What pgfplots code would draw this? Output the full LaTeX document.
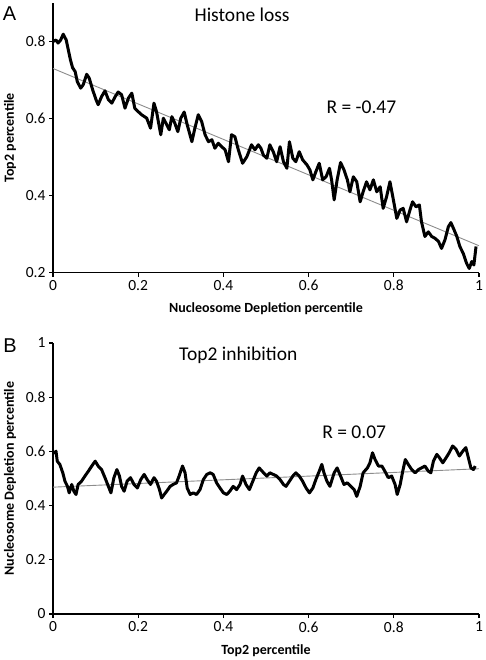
\documentclass[border=0pt]{standalone}
\usepackage{pgfplots}
\pgfplotsset{compat=1.18}
\usepackage{fontspec}
\setmainfont{Carlito}
\newfontfamily\panelfont{Liberation Sans}
\definecolor{trend}{HTML}{8C8C8C}
\pgfplotsset{
  excel/.style={
    scale only axis,
    width=426pt,
    axis x line*=bottom,
    axis y line*=left,
    axis line style={-, line width=1.3pt, black},
    tick align=outside,
    major tick length=4pt,
    tick style={line width=1.1pt, black},
    xmin=0, xmax=1,
    xtick={0,0.2,0.4,0.6,0.8,1},
    /pgf/number format/assume math mode=true,
    /pgf/number format/fixed,
    ticklabel style={font=\fontsize{15.5}{16}\selectfont},
    every axis y label/.style={at={(axis description cs:-0.101,0.5)}, rotate=90, anchor=center, font=\fontsize{14}{15}\selectfont\bfseries},
    every axis x label/.style={at={(axis description cs:0.5,-0.134)}, anchor=center, font=\fontsize{14}{15}\selectfont\bfseries},
  },
  datal/.style={black, line width=3pt, line join=round},
  trendl/.style={trend, line width=0.9pt},
}
\begin{document}
\begin{tikzpicture}
\path[use as bounding box] (0,0) rectangle (486pt,660pt);
\node[font=\panelfont\fontsize{20}{20}\selectfont] at (9.5pt,646pt) {A};
\node[font=\panelfont\fontsize{20}{20}\selectfont] at (10pt,314.5pt) {B};
\begin{axis}[excel,
  at={(53pt,387.3pt)}, anchor=origin,
  height=269.7pt,
  ymin=0.2, ymax=0.9,
  ytick={0.2,0.4,0.6,0.8},
  xlabel={Nucleosome Depletion percentile},
  ylabel={Top2 percentile},
]
\addplot[trendl] coordinates {(0,0.730) (1,0.270)};
\addplot[datal] coordinates {
(0.000,0.800) (0.007,0.804) (0.012,0.796) (0.018,0.804) (0.024,0.819) (0.031,0.804)
(0.036,0.778) (0.041,0.752) (0.046,0.732) (0.052,0.722) (0.057,0.696) (0.065,0.679)
(0.071,0.688) (0.079,0.715) (0.085,0.705) (0.093,0.675) (0.101,0.649) (0.106,0.636)
(0.114,0.657) (0.122,0.672) (0.130,0.649) (0.138,0.640) (0.146,0.657) (0.153,0.669)
(0.161,0.662) (0.169,0.627) (0.177,0.653) (0.185,0.666) (0.192,0.627) (0.200,0.618)
(0.208,0.610) (0.220,0.601) (0.229,0.575) (0.237,0.640) (0.243,0.618) (0.253,0.558)
(0.259,0.601) (0.267,0.584) (0.273,0.571) (0.279,0.605) (0.286,0.588) (0.293,0.566)
(0.300,0.601) (0.308,0.617) (0.315,0.584) (0.326,0.540) (0.333,0.575) (0.341,0.610)
(0.349,0.592) (0.357,0.558) (0.365,0.540) (0.373,0.545) (0.380,0.523) (0.388,0.536)
(0.396,0.527) (0.404,0.519) (0.412,0.488) (0.419,0.558) (0.427,0.553) (0.435,0.519)
(0.445,0.484) (0.455,0.501) (0.466,0.532) (0.474,0.519) (0.482,0.532) (0.488,0.523)
(0.494,0.505) (0.502,0.497) (0.509,0.532) (0.517,0.514) (0.525,0.488) (0.533,0.527)
(0.541,0.488) (0.549,0.471) (0.555,0.540) (0.563,0.497) (0.570,0.488) (0.578,0.514)
(0.586,0.493) (0.596,0.480) (0.603,0.467) (0.610,0.441) (0.617,0.462) (0.625,0.484)
(0.633,0.441) (0.641,0.449) (0.649,0.471) (0.654,0.441) (0.660,0.389) (0.667,0.441)
(0.675,0.486) (0.683,0.467) (0.691,0.441) (0.697,0.410) (0.705,0.449) (0.713,0.436)
(0.721,0.384) (0.728,0.410) (0.736,0.436) (0.744,0.415) (0.752,0.441) (0.760,0.410)
(0.768,0.423) (0.775,0.367) (0.783,0.397) (0.791,0.436) (0.799,0.389) (0.807,0.341)
(0.815,0.363) (0.822,0.367) (0.830,0.332) (0.838,0.363) (0.844,0.384) (0.852,0.371)
(0.860,0.376) (0.865,0.332) (0.873,0.294) (0.881,0.306) (0.889,0.294) (0.897,0.289)
(0.905,0.281) (0.912,0.263) (0.920,0.285) (0.928,0.319) (0.934,0.330) (0.940,0.315)
(0.948,0.294) (0.955,0.268) (0.963,0.250) (0.971,0.224) (0.977,0.211) (0.983,0.229)
(0.988,0.220) (0.993,0.268)
};
\node[font=\fontsize{19.5}{20}\selectfont] at (rel axis cs:0.444,0.955) {Histone loss};
\node[font=\fontsize{19.5}{20}\selectfont] at (rel axis cs:0.724,0.614) {R = -0.47};
\end{axis}
\begin{axis}[excel,
  at={(53pt,46pt)}, anchor=origin,
  height=271pt,
  ymin=0, ymax=1,
  ytick={0,0.2,0.4,0.6,0.8,1},
  xlabel={Top2 percentile},
  ylabel={Nucleosome Depletion percentile},
]
\addplot[trendl] coordinates {(0,0.468) (1,0.536)};
\addplot[datal] coordinates {
(0.003,0.590) (0.007,0.601) (0.010,0.564) (0.016,0.552) (0.023,0.521) (0.028,0.490)
(0.034,0.471) (0.038,0.447) (0.044,0.478) (0.049,0.453) (0.054,0.441) (0.059,0.478)
(0.067,0.490) (0.075,0.509) (0.083,0.527) (0.091,0.546) (0.099,0.564) (0.106,0.546)
(0.114,0.533) (0.122,0.503) (0.130,0.471) (0.136,0.447) (0.143,0.503) (0.150,0.533)
(0.156,0.509) (0.161,0.471) (0.167,0.453) (0.174,0.490) (0.182,0.503) (0.190,0.478)
(0.198,0.465) (0.206,0.496) (0.214,0.515) (0.221,0.496) (0.229,0.478) (0.237,0.503)
(0.243,0.490) (0.250,0.459) (0.255,0.428) (0.261,0.441) (0.267,0.453) (0.275,0.471)
(0.282,0.478) (0.290,0.484) (0.296,0.509) (0.304,0.546) (0.310,0.521) (0.315,0.465)
(0.322,0.441) (0.329,0.447) (0.337,0.441) (0.345,0.459) (0.353,0.496) (0.361,0.515)
(0.369,0.521) (0.376,0.515) (0.384,0.484) (0.392,0.465) (0.400,0.447) (0.408,0.441)
(0.415,0.453) (0.423,0.471) (0.431,0.459) (0.439,0.478) (0.445,0.509) (0.453,0.478)
(0.461,0.459) (0.469,0.490) (0.477,0.521) (0.484,0.539) (0.492,0.525) (0.502,0.509)
(0.509,0.521) (0.517,0.515) (0.525,0.509) (0.533,0.496) (0.541,0.478) (0.547,0.471)
(0.555,0.490) (0.563,0.509) (0.570,0.521) (0.578,0.509) (0.586,0.490) (0.594,0.465)
(0.602,0.447) (0.610,0.465) (0.617,0.496) (0.625,0.527) (0.631,0.552) (0.636,0.521)
(0.643,0.490) (0.650,0.471) (0.660,0.521) (0.667,0.539) (0.675,0.509) (0.683,0.478)
(0.691,0.484) (0.699,0.471) (0.707,0.459) (0.713,0.434) (0.721,0.471) (0.728,0.521)
(0.738,0.539) (0.744,0.558) (0.750,0.595) (0.756,0.570) (0.764,0.546) (0.772,0.546)
(0.779,0.527) (0.787,0.503) (0.795,0.509) (0.803,0.478) (0.808,0.441) (0.815,0.478)
(0.821,0.527) (0.827,0.570) (0.834,0.552) (0.842,0.533) (0.850,0.521) (0.858,0.533)
(0.865,0.539) (0.873,0.546) (0.881,0.527) (0.887,0.521) (0.893,0.564) (0.901,0.589)
(0.907,0.577) (0.915,0.558) (0.923,0.577) (0.930,0.595) (0.938,0.620) (0.946,0.608)
(0.954,0.583) (0.962,0.601) (0.969,0.614) (0.975,0.577) (0.981,0.539) (0.987,0.533)
(0.991,0.546)
};
\node[font=\fontsize{19.5}{20}\selectfont] at (rel axis cs:0.435,0.956) {Top2 inhibition};
\node[font=\fontsize{19.5}{20}\selectfont] at (rel axis cs:0.707,0.672) {R = 0.07};
\end{axis}
\end{tikzpicture}
\end{document}
